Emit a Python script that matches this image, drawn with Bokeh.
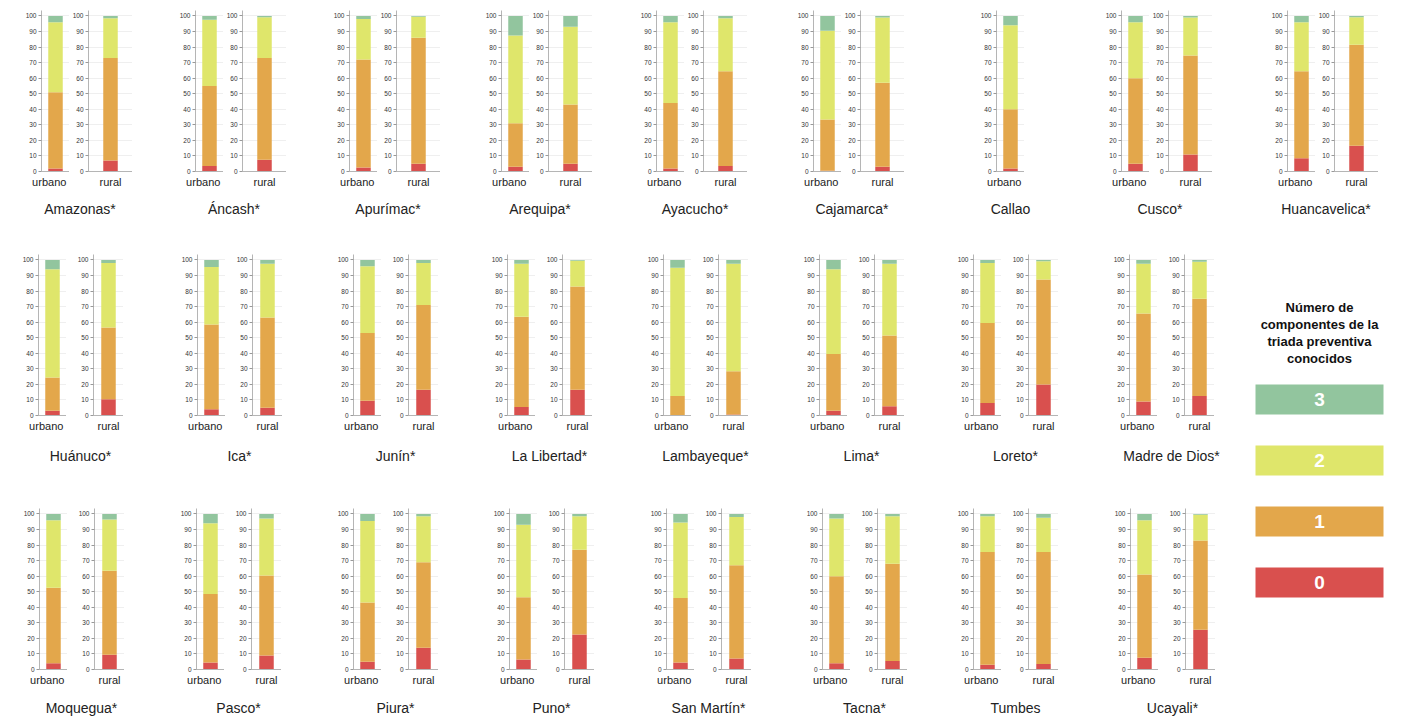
from bokeh.plotting import figure
from bokeh.models import Range1d, FactorRange, Spacer, ColumnDataSource, FixedTicker
from bokeh.layouts import row, column
from bokeh.embed import file_html
from bokeh.resources import INLINE
from bokeh.core.properties import value

# ---------------- data ----------------
regions = ["Amazonas*", "Áncash*", "Apurímac*", "Arequipa*", "Ayacucho*", "Cajamarca*",
           "Callao", "Cusco*", "Huancavelica*",
           "Huánuco*", "Ica*", "Junín*", "La Libertad*", "Lambayeque*", "Lima*", "Loreto*",
           "Madre de Dios*",
           "Moquegua*", "Pasco*", "Piura*", "Puno*", "San Martín*", "Tacna*", "Tumbes", "Ucayali*"]

# percentage of people knowing 0, 1, 2, 3 components (urbano)
urbano_0 = [2, 3.5, 2.5, 3, 2, 0.5, 2, 5, 8.5,
            3, 4, 9.5, 5.5, 0.3, 3, 8, 9,
            4, 4.5, 5, 6.5, 4.5, 4, 3, 7.5]
urbano_1 = [49, 51.5, 69.5, 28, 42, 33, 38, 55, 56,
            21.5, 54.5, 43.5, 58, 12.2, 36.5, 51.5, 56.5,
            48.5, 44, 38, 40, 41.5, 56, 72.5, 53.5]
urbano_2 = [45, 42.5, 26, 56.5, 52, 57, 54, 36, 31.5,
            69.5, 37, 43, 34, 82.5, 54.5, 38.5, 32,
            43.5, 45.5, 52.5, 46.5, 48.5, 37, 23, 35]
urbano_3 = [4, 2.5, 2, 12.5, 4, 9.5, 6, 4, 4,
            6, 4.5, 4, 2.5, 5, 6, 2, 2.5,
            4, 6, 4.5, 7, 5.5, 3, 1.5, 4]

# rural (Callao has no rural area)
rural_0 = [7, 7.5, 5, 5, 3.5, 3, None, 11, 16.5,
           10.5, 5, 16.5, 16.5, 0.7, 6, 20, 12.5,
           9.5, 9, 14, 22.5, 7, 5.5, 3.5, 25.5]
rural_1 = [66, 65.5, 81, 38, 61, 54, None, 63.5, 65,
           46, 58, 54.5, 66.5, 27.8, 45.5, 67.5, 62.5,
           54, 51.5, 55, 54.5, 60, 62.5, 72, 57.5]
rural_2 = [25.5, 26.2, 13.5, 50, 34, 42, None, 24.5, 17.7,
           41.5, 34.5, 27, 16.5, 69, 46, 11.7, 23.8,
           33, 36.5, 29.5, 21.5, 31, 30.5, 22, 16.5]
rural_3 = [1.5, 0.8, 0.5, 7, 1.5, 1, None, 1, 0.8,
           2, 2.5, 2, 0.5, 2.5, 2.5, 0.8, 1.2,
           3.5, 3, 1.5, 1.5, 2, 1.5, 2.5, 0.5]

y_ticks = [0, 10, 20, 30, 40, 50, 60, 70, 80, 90, 100]
legend_labels = ["3", "2", "1", "0"]
legend_title = ["Número de", "componentes de la", "triada preventiva", "conocidos"]

# ---------------- style ----------------
COLORS = ["#d9504e", "#e3a74b", "#dfe66b", "#92c59e"]   # 0,1,2,3
LEG_COLORS = ["#92c59e", "#dfe66b", "#e3a74b", "#d9504e"]  # 3,2,1,0
FONT = value("Liberation Sans")
FH = 161          # frame height
TOPB = 2
BOTB = 22
FIG_H = TOPB + FH + BOTB
LB = 24           # left border of urbano figure
UFW = 28          # urbano frame width
BARW = 14.5       # bar width, px


def mini(cat, vals, frame_w, left_b):
    p = figure(x_range=FactorRange(factors=[cat]), y_range=Range1d(0, 103.5),
               frame_width=frame_w, frame_height=FH,
               min_border_left=left_b, min_border_right=0,
               min_border_top=TOPB, min_border_bottom=BOTB,
               toolbar_location=None, output_backend="svg",
               outline_line_color=None)
    src = ColumnDataSource(dict(x=[cat], c0=[vals[0]], c1=[vals[1]],
                                c2=[vals[2]], c3=[vals[3]]))
    p.vbar_stack(["c0", "c1", "c2", "c3"], x="x", width=BARW / frame_w,
                 fill_color=COLORS, line_color=None, source=src)
    p.xgrid.visible = False
    p.ygrid.grid_line_color = "#efefef"
    p.ygrid.ticker = FixedTicker(ticks=y_ticks)
    p.yaxis.ticker = FixedTicker(ticks=y_ticks)
    p.yaxis.minor_tick_line_color = None
    p.yaxis.major_tick_in = 0
    p.yaxis.major_tick_out = 3
    p.yaxis.major_label_standoff = 2
    p.yaxis.major_label_text_font_size = "6.5px"
    p.yaxis.major_label_text_color = "#333333"
    p.yaxis.major_label_text_font = "Liberation Sans"
    p.yaxis.axis_line_color = "#b5b5b5"
    p.yaxis.major_tick_line_color = "#999999"
    p.xaxis.axis_line_color = "#b5b5b5"
    p.xaxis.major_tick_line_color = None
    p.xaxis.major_tick_in = 0
    p.xaxis.major_tick_out = 0
    p.xaxis.major_label_standoff = 4
    p.xaxis.major_label_text_font_size = "11px"
    p.xaxis.major_label_text_font = "Liberation Sans"
    p.xaxis.major_label_text_color = "#222222"
    return p


def build_row(idxs, x0s, rural_off, rural_fw, row_w, label_h, label_y, label_dx):
    children = []
    cur = 0
    centers = []
    names = []
    for i, x0 in zip(idxs, x0s):
        left = x0 - LB
        if left > cur:
            children.append(Spacer(width=left - cur, height=FIG_H))
            cur = left
        u = mini("urbano", [urbano_0[i], urbano_1[i], urbano_2[i], urbano_3[i]], UFW, LB)
        children.append(u)
        cur += LB + UFW
        ucenter = x0 + UFW / 2
        if rural_0[i] is not None:
            r = mini("rural", [rural_0[i], rural_1[i], rural_2[i], rural_3[i]],
                     rural_fw, rural_off - UFW)
            children.append(r)
            cur += rural_off - UFW + rural_fw
            rcenter = x0 + rural_off + rural_fw / 2
            centers.append((ucenter + rcenter) / 2 + label_dx)
        else:
            centers.append(ucenter)
        names.append(regions[i])
    if cur < row_w:
        children.append(Spacer(width=row_w - cur, height=FIG_H))
    lab = figure(width=row_w, height=label_h, x_range=Range1d(0, row_w),
                 y_range=Range1d(label_h, 0), min_border=0,
                 x_axis_location=None, y_axis_location=None,
                 toolbar_location=None, output_backend="svg",
                 outline_line_color=None)
    lab.grid.visible = False
    lab.text(x=centers, y=[label_y] * len(centers), text=names,
             text_font=FONT, text_font_size="14px", text_color="#222222",
             text_align="center", text_baseline="middle")
    return column(row(children), lab)


row1 = build_row(list(range(0, 9)),
                 [41, 195, 349, 501, 656, 813, 996, 1121, 1287],
                 47, 44, 1397, 59, 15, -3)
row2 = build_row(list(range(9, 17)),
                 [38, 197, 353, 507, 663, 819, 973, 1129],
                 55, 30, 1238, 69, 18, 0)
row3 = build_row(list(range(17, 25)),
                 [39, 196, 353, 509, 666, 822, 973, 1130],
                 55, 30, 1238, 28, 16, 0)

# ---------------- legend ----------------
LW, LH = 159, 460
leg = figure(width=LW, height=LH, x_range=Range1d(0, LW), y_range=Range1d(LH, 0),
             min_border=0, x_axis_location=None, y_axis_location=None,
             toolbar_location=None, output_backend="svg", outline_line_color=None)
leg.grid.visible = False
cx = 81
leg.text(x=[cx] * len(legend_title), y=[55 + 17 * k for k in range(len(legend_title))],
         text=legend_title, text_font=FONT, text_font_size="13px",
         text_font_style="bold", text_color="#111111",
         text_align="center", text_baseline="middle")
ly = [147 + 61 * k for k in range(len(legend_labels))]
leg.rect(x=[cx] * len(legend_labels), y=ly, width=128, height=30,
         fill_color=LEG_COLORS, line_color=None)
leg.text(x=[cx] * len(legend_labels), y=ly, text=legend_labels, text_font=FONT,
         text_font_size="19px", text_font_style="bold", text_color="white",
         text_align="center", text_baseline="middle")

layout = column(Spacer(width=1397, height=8), row1, row(column(row2, row3), leg))

open("out.html", "w").write(file_html(layout, INLINE))
